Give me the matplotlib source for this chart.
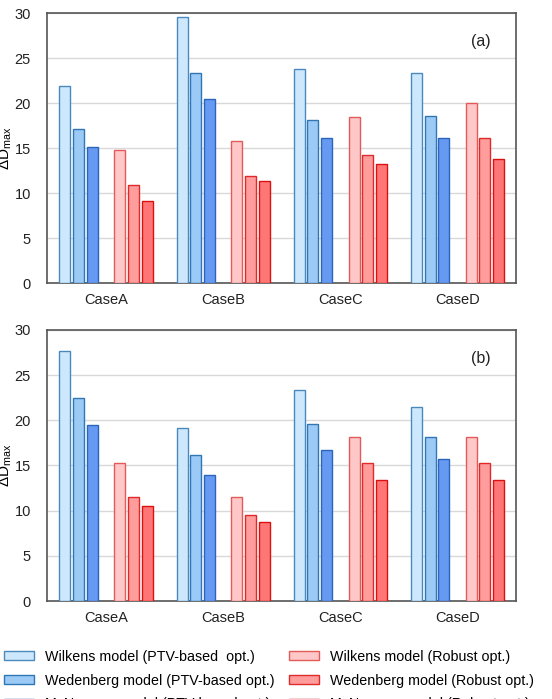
import matplotlib
matplotlib.use("Agg")
import matplotlib.pyplot as plt
import numpy as np

plt.rcParams['font.family'] = ['Liberation Sans', 'DejaVu Sans']
plt.rcParams['mathtext.fontset'] = 'custom'
plt.rcParams['mathtext.rm'] = 'Liberation Sans'
plt.rcParams['mathtext.it'] = 'Liberation Sans'

cases = ["CaseA", "CaseB", "CaseC", "CaseD"]
series = ["Wilkens model (PTV-based  opt.)", "Wedenberg model (PTV-based opt.)",
          "McNamara model (PTV-based opt.)", "Wilkens model (Robust opt.)",
          "Wedenberg model (Robust opt.)", "McNamara model (Robust opt.)"]

# panel (a)
wilkens_ptv_a = [21.9, 29.6, 23.8, 23.4]
wedenberg_ptv_a = [17.1, 23.4, 18.1, 18.6]
mcnamara_ptv_a = [15.1, 20.5, 16.1, 16.1]
wilkens_rob_a = [14.8, 15.8, 18.5, 20.0]
wedenberg_rob_a = [10.9, 11.9, 14.3, 16.1]
mcnamara_rob_a = [9.1, 11.4, 13.3, 13.8]

# panel (b)
wilkens_ptv_b = [27.7, 19.1, 23.4, 21.5]
wedenberg_ptv_b = [22.5, 16.2, 19.6, 18.1]
mcnamara_ptv_b = [19.5, 13.9, 16.7, 15.7]
wilkens_rob_b = [15.3, 11.5, 18.1, 18.1]
wedenberg_rob_b = [11.5, 9.5, 15.3, 15.3]
mcnamara_rob_b = [10.5, 8.7, 13.4, 13.4]

faces = ["#cde8fc", "#9ccaf6", "#6699f2", "#ffc8c8", "#ff9c9c", "#ff7676"]
edges = ["#4a88bd", "#2f76b4", "#2a64bb", "#e25a5a", "#e02a2a", "#dd1010"]
offsets = [-3, -2, -1, 1, 2, 3]

fig = plt.figure(figsize=(5.52, 6.99), dpi=100)
ax_a = fig.add_axes([0.086, 0.5947, 0.849, 0.3863])
ax_b = fig.add_axes([0.086, 0.1402, 0.849, 0.3877])

def draw(ax, data, tag):
    x = np.arange(len(cases))
    step = 0.117
    for i, vals in enumerate(data):
        ax.bar(x + offsets[i] * step, vals, width=0.094, color=faces[i],
               edgecolor=edges[i], linewidth=1.0, label=series[i], zorder=3)
    ax.set_xlim(-0.5, 3.5)
    ax.set_ylim(0, 30)
    ax.set_yticks(range(0, 31, 5))
    ax.set_xticks(x)
    ax.set_xticklabels(cases)
    ax.tick_params(length=0, labelsize=10.5, colors="#222222", pad=7)
    ax.tick_params(axis='y', pad=12)
    ax.grid(axis='y', color="#d9d9d9", linewidth=1.0, zorder=0)
    for s in ax.spines.values():
        s.set_color("#555555")
        s.set_linewidth(1.2)
    ax.set_ylabel(r"$\Delta\mathrm{D}_{\mathrm{max}}$", fontsize=11)
    ax.yaxis.set_label_coords(-0.071, 0.5)
    ax.text(0.945, 0.895, tag, transform=ax.transAxes, fontsize=11.5,
            ha='right', va='center', color="#222222")

draw(ax_a, [wilkens_ptv_a, wedenberg_ptv_a, mcnamara_ptv_a,
            wilkens_rob_a, wedenberg_rob_a, mcnamara_rob_a], "(a)")
draw(ax_b, [wilkens_ptv_b, wedenberg_ptv_b, mcnamara_ptv_b,
            wilkens_rob_b, wedenberg_rob_b, mcnamara_rob_b], "(b)")

h, l = ax_b.get_legend_handles_labels()
fig.legend(h, l, loc='upper left', bbox_to_anchor=(0.008, 1 - 650 / 699),
           bbox_transform=fig.transFigure, ncol=2, frameon=False,
           fontsize=10.3, handlelength=2.1, handleheight=0.6, handletextpad=0.75,
           labelspacing=0.68, columnspacing=1.0, borderpad=0, borderaxespad=0)

fig.savefig("out.png", dpi=100)
